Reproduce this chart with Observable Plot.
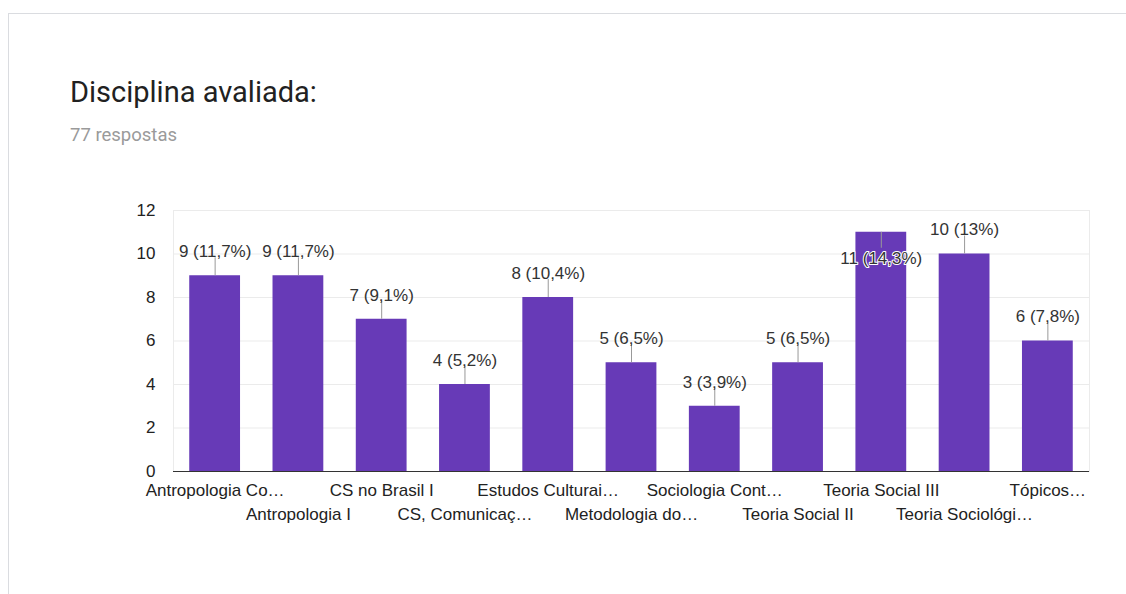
<!DOCTYPE html>
<html>
<head>
<meta charset="utf-8">
<script src="https://cdn.jsdelivr.net/npm/d3@7"></script>
<script src="https://cdn.jsdelivr.net/npm/@observablehq/plot@0.6"></script>
<style>
  html, body { margin: 0; padding: 0; background: #fff; width: 1126px; height: 594px; overflow: hidden; }
  #card { position: absolute; left: 8px; top: 13px; right: 0; bottom: -2px; border-top: 1px solid #dadce0; border-left: 1px solid #dadce0; }
  #title { position: absolute; left: 70px; top: 76px; font-family: Roboto, sans-serif; font-size: 29px; line-height: 1.171; color: #212121; white-space: nowrap; }
  #subtitle { position: absolute; left: 70px; top: 125px; font-family: Roboto, sans-serif; font-size: 18.5px; line-height: 1.171; color: #9a9a9a; white-space: nowrap; }
  #chart { position: absolute; left: 0; top: 195px; }
</style>
</head>
<body>
<div id="card"></div>
<div id="title">Disciplina avaliada:</div>
<div id="subtitle">77 respostas</div>
<div id="chart"></div>
<script>
const categories = ["Antropologia Co…", "Antropologia I", "CS no Brasil I", "CS, Comunicaç…", "Estudos Culturai…", "Metodologia do…", "Sociologia Cont…", "Teoria Social II", "Teoria Social III", "Teoria Sociológi…", "Tópicos…"];
const values = [9, 9, 7, 4, 8, 5, 3, 5, 11, 10, 6];
const percents = ["11,7", "11,7", "9,1", "5,2", "10,4", "6,5", "3,9", "6,5", "14,3", "13", "7,8"];
const yTicks = [0, 2, 4, 6, 8, 10, 12];

const rows = categories.map((c, i) => ({cat: c, value: values[i], label: `${values[i]} (${percents[i]}%)`, row: i % 2}));

const H = 340, mt = 15, mb = 64;
const k = (H - mt - mb) / 12; // px per unit
const above = rows.filter(d => d.value <= 10);
const inside = rows.filter(d => d.value > 10);
const FS = 17;

const chart = Plot.plot({
  width: 1126, height: H,
  marginTop: mt, marginBottom: mb, marginLeft: 173, marginRight: 37,
  x: {domain: categories, paddingInner: 0.39, paddingOuter: 0.195, round: false, axis: null},
  y: {domain: [0, 12], axis: null},
  style: {fontFamily: "'Liberation Sans', Arial, sans-serif", fontSize: FS + "px", color: "#222", background: "transparent"},
  marks: [
    Plot.gridY([2, 4, 6, 8, 10], {stroke: "#ebebeb", strokeOpacity: 1}),
    Plot.frame({stroke: "#ebebeb"}),
    Plot.axisY({ticks: yTicks, tickSize: 0, tickPadding: 18, fontSize: FS, label: null, tickFormat: d => d}),
    Plot.barY(rows, {x: "cat", y: "value", fill: "#673ab7"}),
    Plot.ruleY([0], {stroke: "#333", strokeWidth: 1.2}),
    Plot.ruleX(above, {x: "cat", y1: "value", y2: d => d.value + 18 / k, stroke: "#999"}),
    Plot.ruleX(inside, {x: "cat", y1: "value", y2: d => d.value - 16 / k, stroke: "#999"}),
    Plot.text(above, {x: "cat", y: "value", text: "label", dy: -24, fill: "#333", fontSize: FS}),
    Plot.text(inside, {x: "cat", y: "value", text: "label", dy: 26, fill: "#333", stroke: "white", strokeWidth: 2, fontSize: FS}),
    Plot.text(rows.filter(d => d.row === 0), {x: "cat", text: "cat", frameAnchor: "bottom", dy: 24, fill: "#222", fontSize: FS}),
    Plot.text(rows.filter(d => d.row === 1), {x: "cat", text: "cat", frameAnchor: "bottom", dy: 48, fill: "#222", fontSize: FS})
  ]
});
document.getElementById("chart").appendChild(chart);
</script>
</body>
</html>
